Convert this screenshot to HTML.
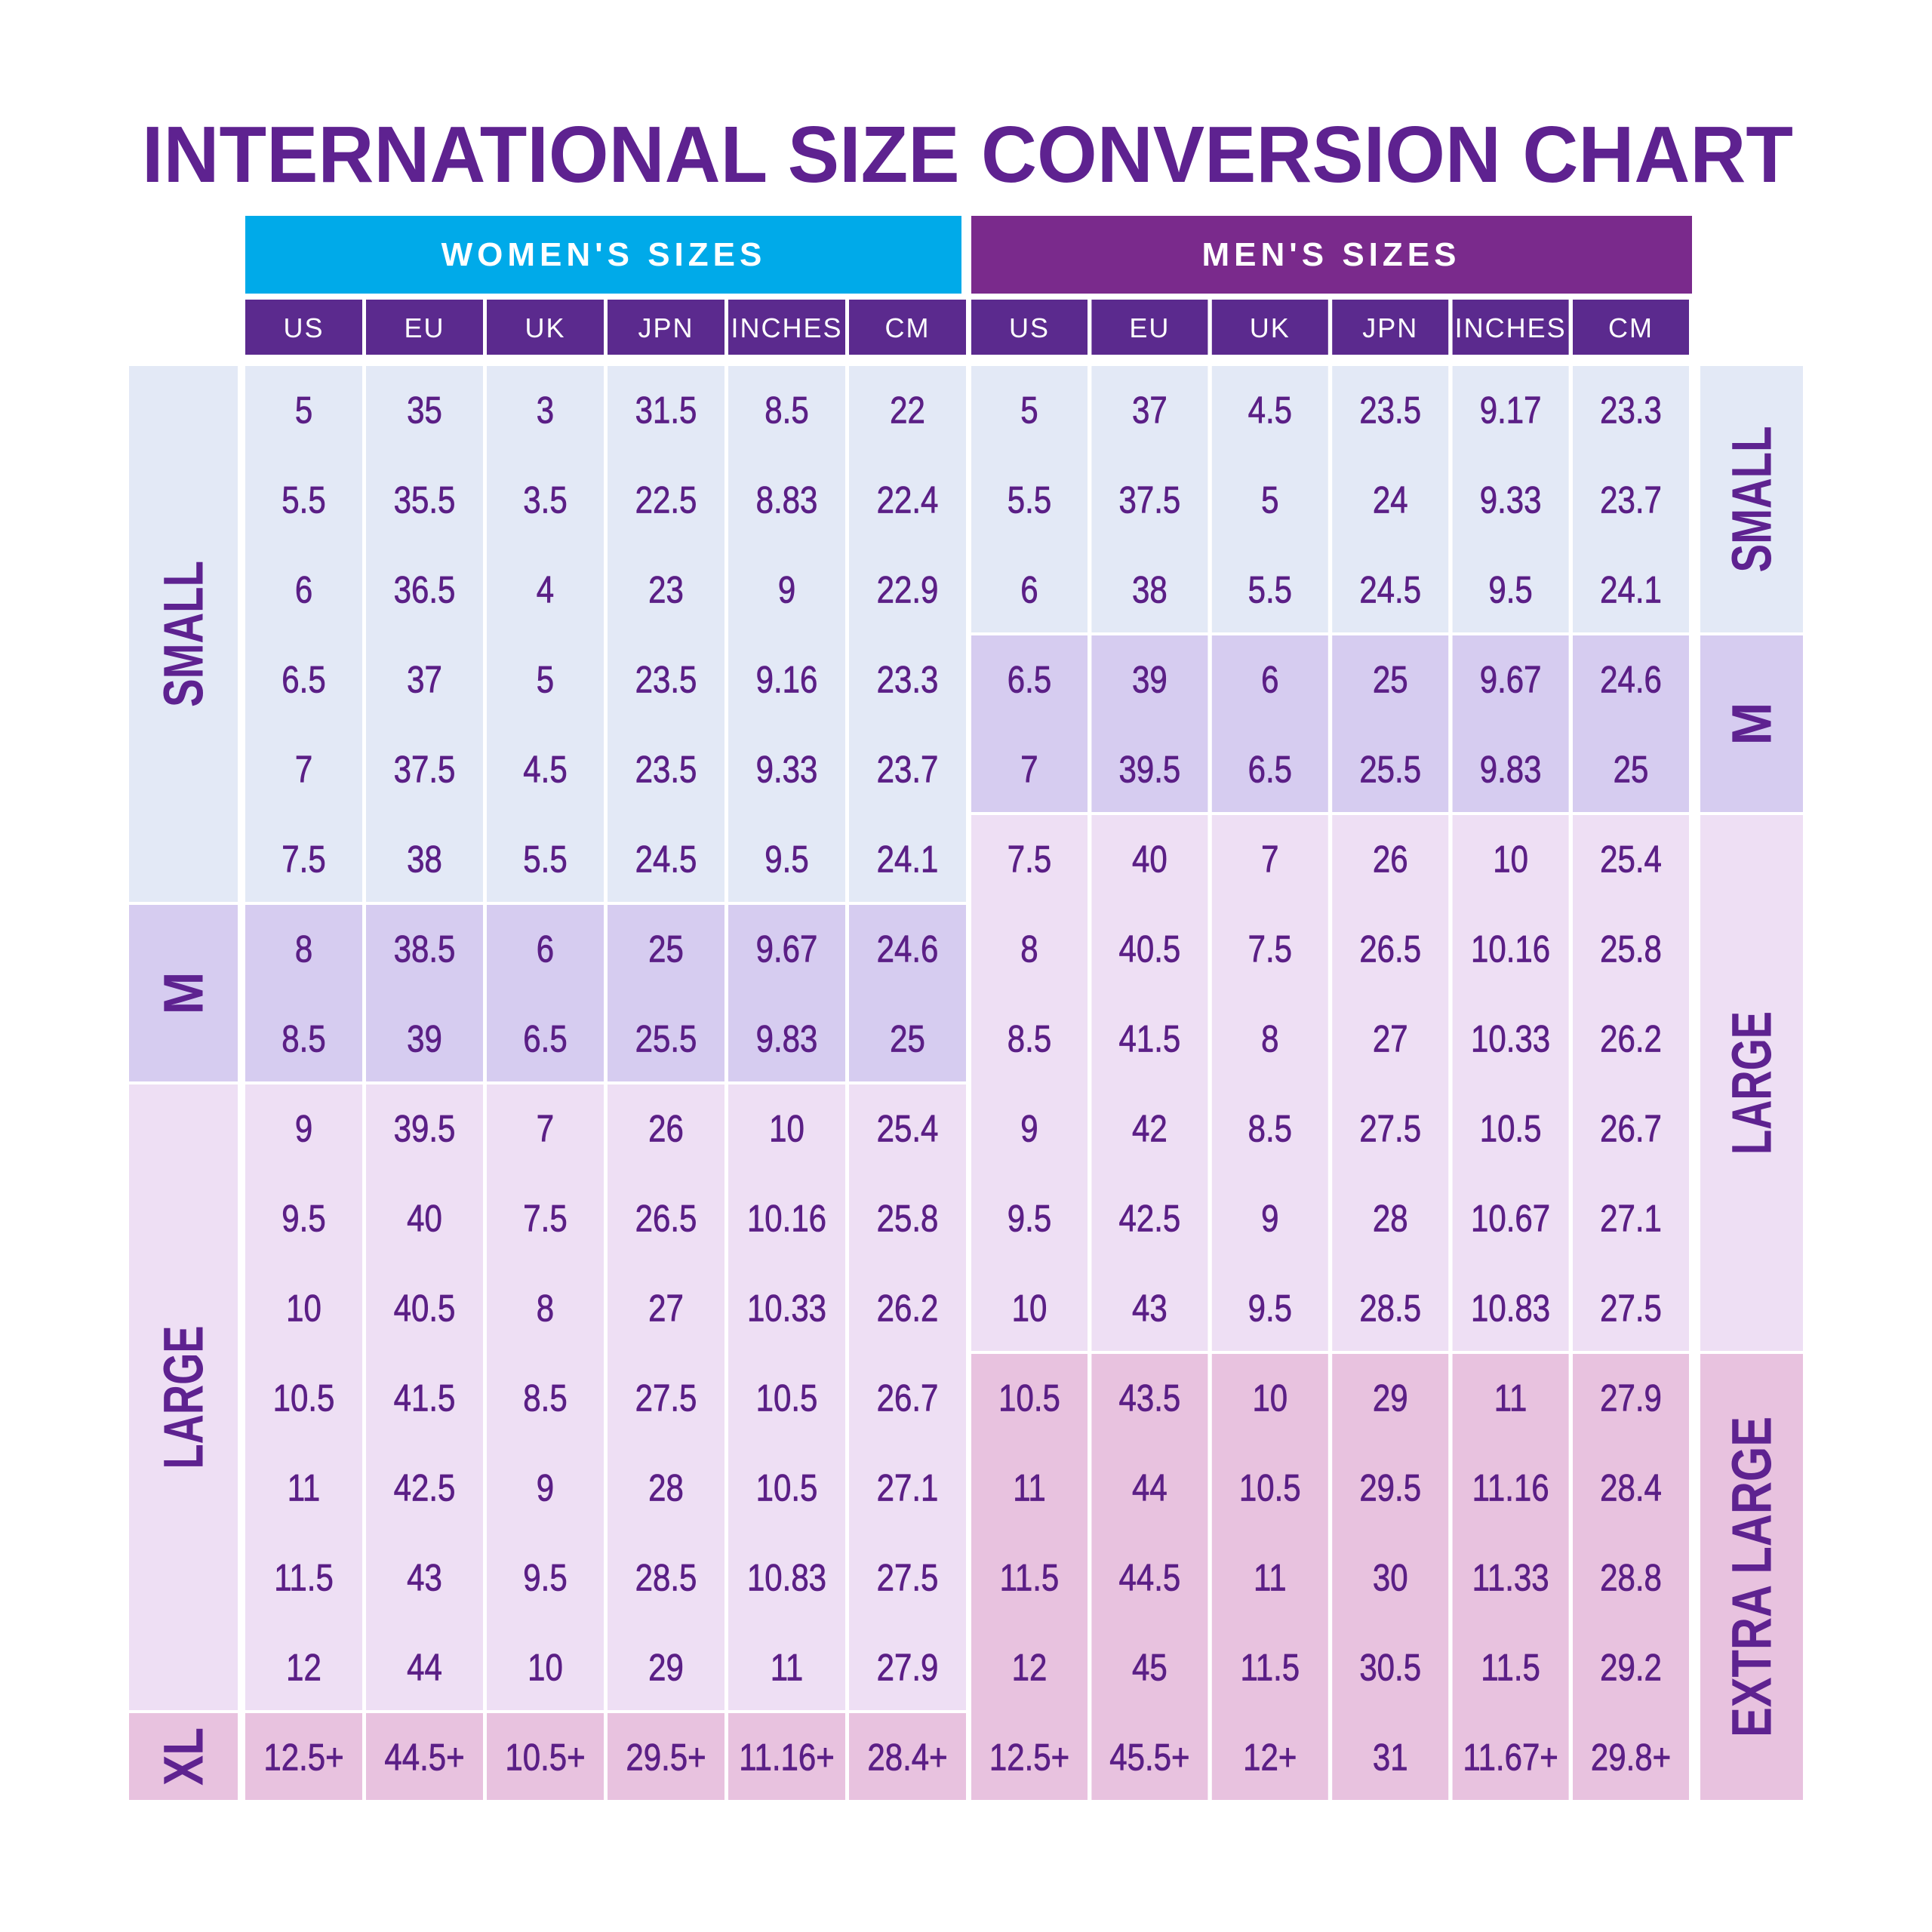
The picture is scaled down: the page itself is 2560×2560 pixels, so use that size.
<!DOCTYPE html>
<html><head><meta charset="utf-8">
<style>
html,body{margin:0;padding:0;background:#fff;}
svg{display:block;}
text{font-family:"Liberation Sans",sans-serif;}
</style></head>
<body>
<svg id="chart" width="2560" height="2560" viewBox="0 0 2560 2560" xmlns="http://www.w3.org/2000/svg">
<text x="188" y="241" font-size="106" font-weight="bold" fill="#5E2290" textLength="2188" lengthAdjust="spacingAndGlyphs">INTERNATIONAL SIZE CONVERSION CHART</text>
<rect x="325" y="286" width="949" height="103" fill="#00AAE9"/>
<text x="800" y="352" font-size="44" font-weight="bold" fill="#fff" text-anchor="middle" letter-spacing="6">WOMEN'S SIZES</text>
<rect x="1287" y="286" width="955" height="103" fill="#7A2A8C"/>
<text x="1764" y="352" font-size="44" font-weight="bold" fill="#fff" text-anchor="middle" letter-spacing="6">MEN'S SIZES</text>
<g id="cells"></g>
</svg>
<script>
const colNames = ["US","EU","UK","JPN","INCHES","CM"];
const wUS = ["5","5.5","6","6.5","7","7.5","8","8.5","9","9.5","10","10.5","11","11.5","12","12.5+"];
const wEU = ["35","35.5","36.5","37","37.5","38","38.5","39","39.5","40","40.5","41.5","42.5","43","44","44.5+"];
const wUK = ["3","3.5","4","5","4.5","5.5","6","6.5","7","7.5","8","8.5","9","9.5","10","10.5+"];
const wJPN = ["31.5","22.5","23","23.5","23.5","24.5","25","25.5","26","26.5","27","27.5","28","28.5","29","29.5+"];
const wIN = ["8.5","8.83","9","9.16","9.33","9.5","9.67","9.83","10","10.16","10.33","10.5","10.5","10.83","11","11.16+"];
const wCM = ["22","22.4","22.9","23.3","23.7","24.1","24.6","25","25.4","25.8","26.2","26.7","27.1","27.5","27.9","28.4+"];
const mUS = ["5","5.5","6","6.5","7","7.5","8","8.5","9","9.5","10","10.5","11","11.5","12","12.5+"];
const mEU = ["37","37.5","38","39","39.5","40","40.5","41.5","42","42.5","43","43.5","44","44.5","45","45.5+"];
const mUK = ["4.5","5","5.5","6","6.5","7","7.5","8","8.5","9","9.5","10","10.5","11","11.5","12+"];
const mJPN = ["23.5","24","24.5","25","25.5","26","26.5","27","27.5","28","28.5","29","29.5","30","30.5","31"];
const mIN = ["9.17","9.33","9.5","9.67","9.83","10","10.16","10.33","10.5","10.67","10.83","11","11.16","11.33","11.5","11.67+"];
const mCM = ["23.3","23.7","24.1","24.6","25","25.4","25.8","26.2","26.7","27.1","27.5","27.9","28.4","28.8","29.2","29.8+"];
const wGroups = [["SMALL",0,6],["M",6,8],["LARGE",8,15],["XL",15,16]];
const mGroups = [["SMALL",0,3],["M",3,5],["LARGE",5,11],["EXTRA LARGE",11,16]];
const groupColor = {"SMALL":"#E3E9F6","M":"#D6CCF0","LARGE":"#EEDFF4","XL":"#E8C2DF","EXTRA LARGE":"#E8C2DF"};
const labelLen = {"SMALL":194,"M":57,"LARGE":190,"XL":77,"EXTRA LARGE":425};
const womenCols = [wUS,wEU,wUK,wJPN,wIN,wCM];
const menCols = [mUS,mEU,mUK,mJPN,mIN,mCM];

const NS="http://www.w3.org/2000/svg";
const g=document.getElementById('cells');
const top0=485, rowH=119;
function rowY(r){return top0+r*rowH;}
function mk(tag,attrs,parent){const e=document.createElementNS(NS,tag);for(const k in attrs)e.setAttribute(k,attrs[k]);(parent||g).appendChild(e);return e;}
function table(x0,colStep,colW,cols,groups,sideX,sideW,prefix){
  colNames.forEach((n,i)=>{
    const x=x0+i*colStep;
    const r=mk('rect',{x:x,y:397,width:colW,height:73,fill:'#5B2A8E'});
    
    
    const t=mk('text',{x:x+colW/2,y:447,'font-size':36,fill:'#fff','text-anchor':'middle','letter-spacing':2});
    t.textContent=n;
    
    
  });
  groups.forEach(gr=>{
    const [name,s,e]=gr;
    const y=rowY(s), h=rowY(e)-rowY(s)-4;
    cols.forEach((col,i)=>{
      const r=mk('rect',{x:x0+i*colStep,y:y,width:colW,height:h,fill:groupColor[name]});
      
      
    });
    const sr=mk('rect',{x:sideX,y:y,width:sideW,height:h,fill:groupColor[name]});
    
    
    const cx=sideX+sideW/2, cy=y+h/2;
    const t=mk('text',{x:cx,y:cy,'font-size':74,'font-weight':'bold',fill:'#5E2290','text-anchor':'middle','dominant-baseline':'central',transform:'rotate(-90 '+cx+' '+cy+')',textLength:labelLen[name],lengthAdjust:'spacingAndGlyphs'});
    t.textContent=name;
    
    
  });
  cols.forEach((col,i)=>{
    col.forEach((v,r)=>{
      const cx=x0+i*colStep+colW/2, cy=rowY(r)+rowH/2-2;
      const t=mk('text',{x:cx,y:cy+18,'font-size':50,fill:'#5B1F86','text-anchor':'middle',stroke:'#5B1F86','stroke-width':0.8,transform:'translate('+cx+' 0) scale(0.84 1) translate('+(-cx)+' 0)'});
      t.textContent=v;
      
      
    });
  });
}
table(325,160,155,womenCols,wGroups,171,144,'women');
table(1287,159.4,154,menCols,mGroups,2253,136,'men');
</script>
</body></html>
